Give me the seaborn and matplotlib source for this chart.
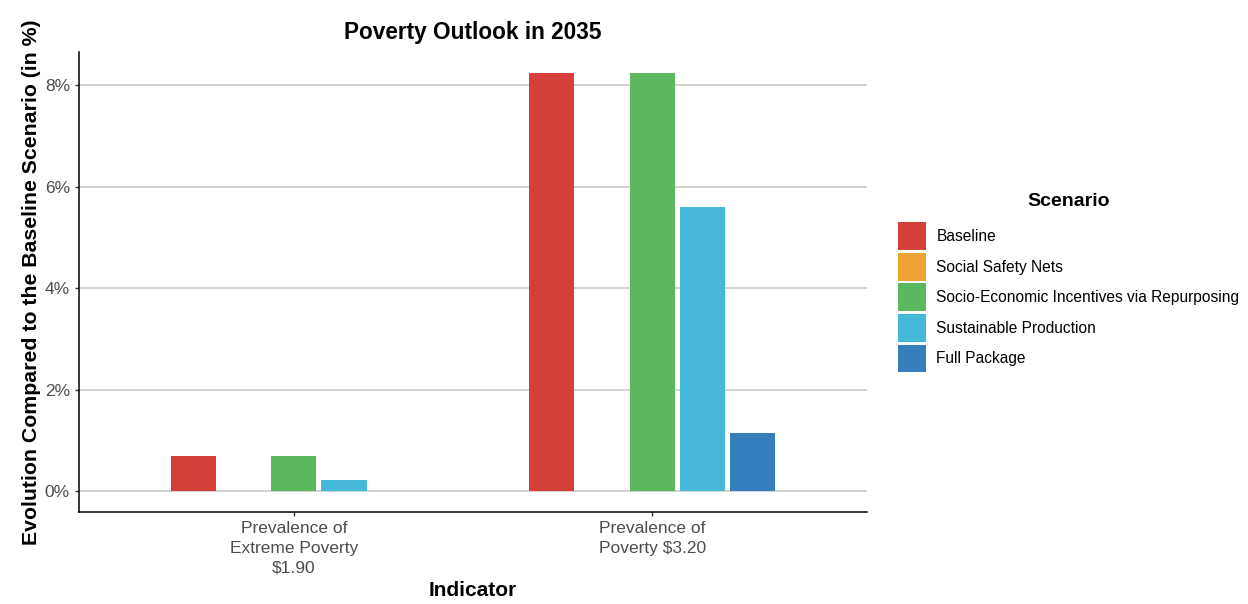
import pandas as pd
import matplotlib
matplotlib.use("Agg")
import matplotlib.pyplot as plt
import seaborn as sns

# Data
indicators = ["Prevalence of\nExtreme Poverty\n$1.90", "Prevalence of\nPoverty $3.20"]
scenarios = ["Baseline", "Social Safety Nets", "Socio-Economic Incentives via Repurposing",
             "Sustainable Production", "Full Package"]
extreme_poverty = [0.70, 0.0, 0.70, 0.23, 0.0]
poverty_320 = [8.23, 0.0, 8.23, 5.60, 1.15]
colors = ["#D43F3A", "#EEA236", "#5CB85C", "#46B8DA", "#357EBD"]

df = pd.DataFrame({
    "Indicator": [indicators[0]] * 5 + [indicators[1]] * 5,
    "Scenario": scenarios * 2,
    "Value": extreme_poverty + poverty_320,
})

sns.set_theme(style="white")
plt.rcParams["font.family"] = ["Liberation Sans", "DejaVu Sans"]
plt.rcParams["text.parse_math"] = False

fig = plt.figure(figsize=(12.48, 6.04), dpi=100)
ax = fig.add_axes([0.0633, 0.1523, 0.6314, 0.7617])

sns.barplot(data=df, x="Indicator", y="Value", hue="Scenario", hue_order=scenarios,
            palette=colors, saturation=1, width=0.7, gap=0.1, linewidth=0,
            errorbar=None, ax=ax)

ax.set_xlim(0.4 - 1, 2.6 - 1)
ax.set_ylim(-0.41, 8.65)
ax.set_yticks([0, 2, 4, 6, 8])
ax.set_yticklabels(["0%", "2%", "4%", "6%", "8%"])
ax.yaxis.grid(True, color="#C8C8C8", linewidth=1.1)
ax.set_axisbelow(True)
for s in ["top", "right"]:
    ax.spines[s].set_visible(False)
for s in ["left", "bottom"]:
    ax.spines[s].set_color("black")
    ax.spines[s].set_linewidth(1.1)
ax.tick_params(axis="both", which="both", length=3, width=1, color="#333333",
               labelsize=12.5, labelcolor="#4D4D4D", left=True, bottom=True)
for lbl in ax.get_xticklabels():
    lbl.set_linespacing(1.4)

ax.set_title("Poverty Outlook in 2035", fontsize=16.3, fontweight="bold", color="black", pad=9)
ax.set_xlabel("Indicator", fontsize=15, fontweight="bold", color="black", labelpad=4)
ax.set_ylabel("Evolution Compared to the Baseline Scenario (in %)", fontsize=15.3,
              fontweight="bold", color="black", labelpad=3)

handles, labels = ax.get_legend_handles_labels()
ax.get_legend().remove()
leg = fig.legend(handles, labels, title="Scenario", loc="center left",
                 bbox_to_anchor=(0.713, 0.532), frameon=False, fontsize=11.2,
                 handlelength=1.8, handleheight=2.38, labelspacing=0.17,
                 handletextpad=0.7, borderpad=0, labelcolor="black")
leg.get_title().set_fontweight("bold")
leg.get_title().set_fontsize(14)
leg.get_title().set_color("black")
leg._legend_box.sep = 9

fig.savefig("out.png", dpi=100)
